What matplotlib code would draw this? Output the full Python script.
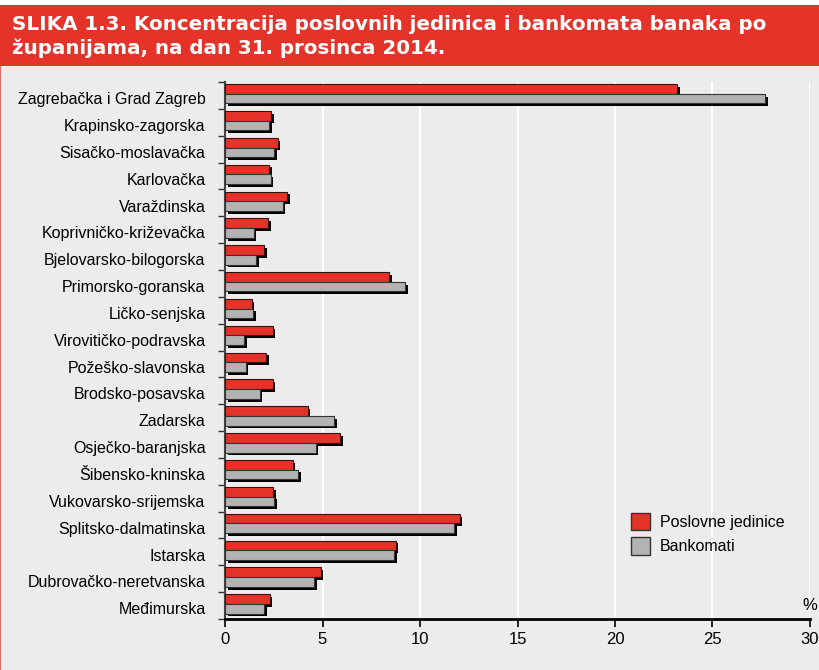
import numpy as np
import matplotlib
matplotlib.use('Agg')
import matplotlib.pyplot as plt
import matplotlib.patheffects as pe
from matplotlib.patches import Rectangle, Patch

############################## data ##############################

zupanije = ['Zagrebačka i Grad Zagreb', 'Krapinsko-zagorska', 'Sisačko-moslavačka',
            'Karlovačka', 'Varaždinska', 'Koprivničko-križevačka', 'Bjelovarsko-bilogorska',
            'Primorsko-goranska', 'Ličko-senjska', 'Virovitičko-podravska', 'Požeško-slavonska',
            'Brodsko-posavska', 'Zadarska', 'Osječko-baranjska', 'Šibensko-kninska',
            'Vukovarsko-srijemska', 'Splitsko-dalmatinska', 'Istarska',
            'Dubrovačko-neretvanska', 'Međimurska']

poslovne_jedinice = [23.2, 2.36, 2.70, 2.27, 3.20, 2.20, 2.02, 8.43, 1.37, 2.44, 2.12,
                     2.44, 4.24, 5.90, 3.47, 2.46, 12.03, 8.75, 4.90, 2.29]
bankomati = [27.7, 2.27, 2.51, 2.34, 2.96, 1.47, 1.60, 9.23, 1.45, 0.99, 1.06,
             1.78, 5.59, 4.65, 3.73, 2.50, 11.73, 8.68, 4.55, 2.00]

x_ticks = [0, 5, 10, 15, 20, 25, 30]

title_lines = ['SLIKA 1.3. Koncentracija poslovnih jedinica i bankomata banaka po',
               'županijama, na dan 31. prosinca 2014.']

############################## style ##############################

RED = '#E5332A'
GREY = '#B3B3B3'
BG = '#ECECEC'
plt.rcParams['font.family'] = ['Liberation Sans', 'DejaVu Sans']

fig = plt.figure(figsize=(8.2, 6.7), dpi=100, facecolor=BG)

# red title band
fig.patches.append(Rectangle((0, 1 - 66 / 670), 1, 61 / 670, transform=fig.transFigure,
                             facecolor=RED, edgecolor='none', zorder=0))
fig.patches.append(Rectangle((0, 1 - 5 / 670), 1, 5 / 670, transform=fig.transFigure,
                             facecolor='white', edgecolor='none', zorder=0))
fig.patches.append(Rectangle((0, 0), 1.5 / 820, 1 - 66 / 670, transform=fig.transFigure,
                             facecolor='#E46A63', edgecolor='none', zorder=0))
for i, line in enumerate(title_lines):
    fig.text(12 / 820, 1 - (30 + 24 * i) / 670, line, color='white', fontsize=14.3,
             fontweight='bold', va='baseline', ha='left', family='DejaVu Sans')

############################## plot ##############################

ax = fig.add_axes([225 / 820, 1 - 619 / 670, 585 / 820, 537 / 670])
ax.set_facecolor(BG)

n = len(zupanije)
y = np.arange(n)
h = 0.36
shadow = [pe.SimplePatchShadow(offset=(2.0, -2.0), shadow_rgbFace='black', alpha=1.0),
          pe.Normal()]

ax.barh(y - h / 2 - 0.06, poslovne_jedinice, height=h, color=RED, edgecolor='#3a1010',
        linewidth=0.8, path_effects=shadow, zorder=3, label='Poslovne jedinice')
ax.barh(y + h / 2 - 0.06, bankomati, height=h, color=GREY, edgecolor='#333333',
        linewidth=0.8, path_effects=shadow, zorder=4, label='Bankomati')

ax.set_xlim(0, 30)
ax.set_ylim(n - 0.5, -0.5)
ax.set_xticks(x_ticks)
ax.set_xticklabels([str(t) for t in x_ticks], fontsize=12)
ax.set_yticks(y + 0.1)
ax.set_yticklabels(zupanije, fontsize=11.5)
ax.set_yticks(np.arange(n + 1) - 0.5, minor=True)
ax.tick_params(axis='y', which='major', length=0, pad=14)
ax.tick_params(axis='y', which='minor', length=5, width=1, color='#333333')
ax.tick_params(axis='x', length=6, width=1.2, pad=3)

ax.grid(axis='x', color='white', linewidth=1.5, zorder=0)
ax.set_axisbelow(True)
for s in ['top', 'right']:
    ax.spines[s].set_visible(False)
ax.spines['bottom'].set_linewidth(2)
ax.spines['left'].set_linewidth(1.5)
ax.spines['left'].set_color('#444444')

ax.text(1.0, 0.012, '%', transform=ax.transAxes, ha='center', va='bottom', fontsize=12)

handles = [Patch(facecolor=RED, edgecolor='#333333', label='Poslovne jedinice'),
           Patch(facecolor=GREY, edgecolor='#333333', label='Bankomati')]
ax.legend(handles=handles, loc='upper left', bbox_to_anchor=(0.67, 0.225), frameon=False,
          fontsize=11.5, handlelength=1.2, handleheight=1.3, handletextpad=0.6,
          labelspacing=0.45)

fig.savefig('out.png', dpi=100, facecolor=BG)
